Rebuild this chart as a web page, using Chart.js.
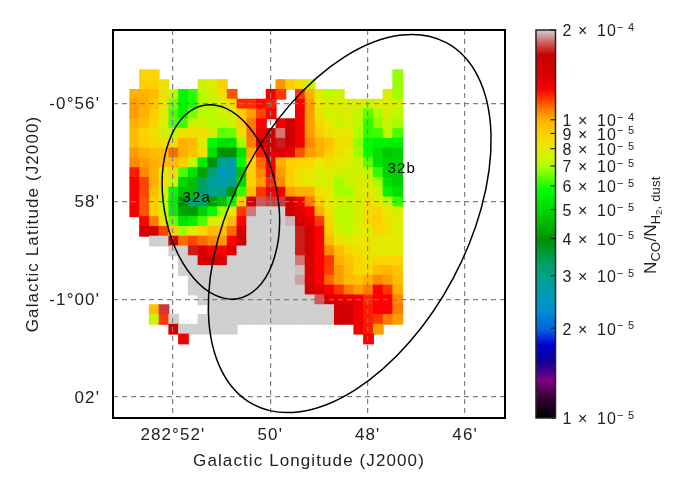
<!DOCTYPE html>
<html>
<head>
<meta charset="utf-8">
<title>CO abundance map</title>
<script src="https://cdn.jsdelivr.net/npm/chart.js@4"></script>
<style>
  html, body { margin: 0; padding: 0; background: #fff; }
  canvas { position: absolute; left: 0; top: 0; }
</style>
</head>
<body>
<canvas id="mapChart" width="681" height="496"></canvas>
<canvas id="barChart" width="681" height="496"></canvas>
<script>
// axis ticks (arcmin)
const lonTicks = [52, 50, 48, 46];
const lonLabels = ["282°52'", "50'", "48'", "46'"];
const latTicks = [-56, -58, -60, -62];
const latLabels = ["-0°56'", "58'", "-1°00'", "02'"];

// map cells, in units of 1e-5, G = above the colour range, _ = no data
const _ = null, G = 25;
const cellSize = 0.2;
const firstLon = 52.782;
const firstLat = -55.415;
const cellValues = [
  [_,8.8,8.8,_,_,_,_,_,_,_,_,_,_,_,_,_,_,_,_,_,_,_,_,_,_,_,_,6.8],
  [_,9,9,8.3,_,_,_,7.6,7.8,9,_,_,_,_,_,10.4,9,8.3,7.5,_,_,_,_,_,_,_,_,6.8],
  [10,10,9.6,8.3,7.3,5.7,6.1,7.2,7.6,8.3,11.4,_,_,_,13,11.8,_,11.8,10,7.8,7.1,7.6,_,_,_,_,7.8,6.9],
  [10.3,10,9.4,8.2,6.6,5.6,6,7,7.2,7.8,8.4,12,12,12.5,12.2,_,_,12.8,10.3,8,7.8,7.8,7.8,7.8,7.4,7.8,7.8,7.5],
  [10.3,10,9.1,8,6.3,5.6,6.6,7.1,7.2,7.5,7.7,9.1,10.3,11.6,12.6,_,_,13,10.3,8.3,7.5,7.7,7.8,7.3,6.4,7,7.7,7.2],
  [10,9.6,8.8,7.8,6.3,6.2,7.5,7.5,7.2,7.2,7.5,9.1,10.8,12.6,_,13,15,13,10.3,8.8,8,7.5,7.8,7.2,6.1,6.8,7.5,6.9],
  [9.6,8.8,8.3,7.7,7.3,8.3,8.3,8.3,7.7,6.4,6.5,8.6,11,13,15,18.5,15.5,13,10.3,9.1,8.3,8,8,7,6.1,6.2,7.3,6.3],
  [9.6,9.1,8.8,8.3,8.6,10,9.6,7.9,5.7,5.2,5.2,6.9,10.8,14,15,17,15.5,13,10.6,10,9.4,8.3,8.3,6.8,5.8,5.5,5.5,5.5],
  [10.3,10,9.6,9.6,11.1,10,9.4,8.3,5.2,3.9,3.9,5.2,10,12.2,14.5,13.8,13.5,11.4,10.3,10,9.1,8.3,8,6.9,5.8,5.2,4.7,4.9],
  [10.6,10.3,10,9.6,9.6,9.1,7.4,5.4,3.9,2.9,2.8,5.8,9.1,11.1,12.6,10,9.1,8.8,8.8,8,8.3,8,7.8,7.5,6.4,5.2,4.9,4.9],
  [12.2,10.6,10,8,8.6,6.3,5.2,4.2,3.2,2.5,2.6,4.6,9.1,10.6,12.6,10.3,9.1,8.3,8,7.8,7.8,7.5,7.5,7.5,7.2,6.1,4.9,4.9],
  [12.6,11.6,10,8.3,7.3,5,4.6,3.3,2.8,2.7,2.9,5.1,9.1,10.3,12,10.6,9.1,8.3,8,7.8,7.7,6.9,7.5,7.7,7.7,6.9,5.2,4.9],
  [12.6,11.6,9.6,7.7,5.7,4.6,4.6,3.2,2.9,3,4.1,6.1,9.6,11.8,12.8,13,10.3,10,10,8.3,8,6.9,6.9,7.7,8,7.5,5.6,5.2],
  [12.6,11.4,9.1,7.3,5.5,3.9,3.2,3.3,4.1,4.6,5.8,9.1,15,18,17.5,17.5,15.5,13,10.8,9.1,8,7.7,7.5,7.7,8.3,7.9,7.2,6.1],
  [13,11.4,9.1,7.5,5.5,4.2,4.1,4.9,5.8,6.9,8,11.8,18.5,G,G,G,15.5,13.8,12.6,10,8.3,7.2,7.2,7.7,8.5,8.8,8,7.7],
  [_,12.6,10.8,8.3,6.5,5.2,5.5,6.3,7.7,7.9,9.6,12.6,G,G,G,G,19.5,15,13.5,11.8,8.8,7.3,7.2,7.7,8.5,9.1,8.3,7.8],
  [_,14.5,14.5,11.6,9.1,6.9,7.9,8.8,9.6,9.6,11.1,15,G,G,G,G,G,17,14.5,12.6,9.1,7.7,7.3,7.8,8,8.8,8.3,7.8],
  [_,_,G,G,15,11.1,11.6,11.1,10.6,10.3,12.6,16.5,G,G,G,G,G,17,14.5,12.6,9.6,8.2,7.9,8,8.2,8,8,7.9],
  [_,_,_,_,G,G,17,14,12.8,12.6,14,G,G,G,G,G,G,17,14.5,12.6,10.6,9.6,8.8,8.3,8.2,8,7.9,7.9],
  [_,_,_,_,_,G,G,15,15,14,G,G,G,G,G,G,G,18.5,14.5,12.6,11.8,10,9.4,8.8,8.3,8.8,8.8,8.8],
  [_,_,_,_,_,G,G,G,G,G,G,G,G,G,G,G,G,19.7,14.5,12.6,11.6,10.3,9.6,8.7,8.7,9.6,9.8,9.4],
  [_,_,_,_,_,_,G,G,G,G,G,G,G,G,G,G,G,19.2,14.5,12.6,11.1,10.3,9.6,9.4,10,10.6,10.3,9.6],
  [_,_,_,_,_,_,G,G,G,G,G,G,G,G,G,G,G,G,15,13.8,12.6,11.8,10.8,10.3,10.8,12.8,11.8,10],
  [_,_,_,_,_,_,_,G,G,G,G,G,G,G,G,G,G,G,G,18,14.5,13.8,13.5,13,12,12.6,12.6,10.6],
  [_,_,9.6,17.5,_,_,_,_,G,G,G,G,G,G,G,G,G,G,G,G,G,15.5,15,13,12.2,12.6,12.6,10.8],
  [_,_,7.5,11.8,G,_,_,G,G,G,G,G,G,G,G,G,G,G,G,G,G,15.5,15,13,12.2,11.8,10.8,10.3],
  [_,_,_,_,15,G,G,G,G,G,G,_,_,_,_,_,_,_,_,_,_,_,_,13,12.2,10.3,_,_],
  [_,_,_,_,_,13,_,_,_,_,_,_,_,_,_,_,_,_,_,_,_,_,_,_,12.6,_,_,_]
];

// regions drawn over the map (arcmin, position angle in degrees)
const regionNames = ['32a', '32b'];
const regionLon = [51.015, 48.369];
const regionLat = [-58.014, -58.454];
const regionMajor = [2.006, 4.19];
const regionMinor = [1.166, 2.393];
const regionAngle = [9.8, -28.1];
const regionLabelLon = [51.51, 47.3];
const regionLabelLat = [-57.93, -57.34];

// colour bar
const cbarTicks = [20, 10, 9, 8, 7, 6, 5, 4, 3, 2, 1];
const cbarLabels = ['2', '1', '9', '8', '7', '6', '5', '4', '3', '2', '1'];
const cbarExps = ['4', '4', '5', '5', '5', '5', '5', '5', '5', '5', '5'];
const stopValues = [1, 1.15, 1.34, 1.54, 1.76, 1.97, 2.3, 2.8, 3.34, 3.95, 4.6, 5.82, 7, 8.05, 9, 10, 11, 12.6, 14.2, 16.5, 17.9, 20];
const stopColors = ['#000000', '#300030', '#800080', '#10009a', '#0000d0', '#0060e0', '#0090d0', '#00a0a0', '#00a060', '#009000',
  '#00c000', '#00ff00', '#b0ff00', '#e8e800', '#ffd000', '#ffb000', '#ff7000', '#ff0000', '#d80000', '#c80000', '#d05050', '#d0d0d0'];

const FONT = '"Liberation Sans", Arial, sans-serif';
const INK = '#222';

function rgb(hex) {
  return [1, 3, 5].map(i => parseInt(hex.substr(i, 2), 16));
}

function colorFor(v) {
  if (v >= 20) return stopColors[stopColors.length - 1];
  let i = 0;
  while (i < stopValues.length - 2 && v > stopValues[i + 1]) i++;
  const t = Math.log(v / stopValues[i]) / Math.log(stopValues[i + 1] / stopValues[i]);
  const a = rgb(stopColors[i]), b = rgb(stopColors[i + 1]);
  return 'rgb(' + a.map((c, k) => Math.round(c + (b[k] - c) * t)).join(',') + ')';
}

const cells = [];
cellValues.forEach((row, i) => row.forEach((v, j) => {
  if (v !== null) cells.push({ x: firstLon - j * cellSize, y: firstLat - i * cellSize, v: v });
}));

// the reference text is set a little wide
const spacingPlugin = {
  id: 'spacing',
  beforeLayout(chart) { chart.ctx.letterSpacing = '1.1px'; }
};

const regionPlugin = {
  id: 'regions',
  afterDraw(chart) {
    const { ctx, chartArea: a, scales: { x, y } } = chart;
    const perMin = Math.abs(y.getPixelForValue(0) - y.getPixelForValue(1));
    ctx.save();
    ctx.strokeStyle = '#000';
    ctx.lineWidth = 1.5;
    regionNames.forEach((name, i) => {
      ctx.beginPath();
      ctx.ellipse(x.getPixelForValue(regionLon[i]), y.getPixelForValue(regionLat[i]),
        regionMinor[i] * perMin, regionMajor[i] * perMin, regionAngle[i] * Math.PI / -180, 0, 2 * Math.PI);
      ctx.stroke();
    });
    ctx.fillStyle = '#000';
    ctx.font = '15px ' + FONT;
    ctx.textAlign = 'center';
    ctx.textBaseline = 'middle';
    regionNames.forEach((name, i) => {
      ctx.fillText(name, x.getPixelForValue(regionLabelLon[i]), y.getPixelForValue(regionLabelLat[i]));
    });
    ctx.lineWidth = 2;
    ctx.strokeRect(a.left, a.top, a.right - a.left, a.bottom - a.top);
    ctx.restore();
  }
};

const gridStyle = { color: '#808080', lineWidth: 1.2, drawTicks: false, z: 1 };
const noBorder = { display: false, dash: [5, 4] };

new Chart(document.getElementById('mapChart'), {
  type: 'scatter',
  data: {
    datasets: [{
      data: cells,
      pointStyle: 'rect',
      borderWidth: 0,
      pointBorderWidth: 0,
      pointBackgroundColor: c => c.raw ? colorFor(c.raw.v) : 'transparent',
      pointRadius: c => {
        const s = c.chart.scales.y;
        return (Math.abs(s.getPixelForValue(0) - s.getPixelForValue(cellSize)) + 1) / 2 * Math.SQRT2;
      }
    }]
  },
  options: {
    responsive: false,
    animation: false,
    events: [],
    layout: { padding: { top: 30, right: 176, bottom: 0, left: 0 } },
    plugins: { legend: { display: false }, tooltip: { enabled: false } },
    scales: {
      x: {
        type: 'linear', reverse: true, min: 45.18, max: 53.23,
        afterBuildTicks: s => { s.ticks = lonTicks.map(v => ({ value: v })); },
        afterFit: s => { s.height = 78; },
        grid: gridStyle,
        border: noBorder,
        ticks: {
          autoSkip: false, maxRotation: 0, padding: 7, color: INK, font: { family: FONT, size: 17 },
          callback: v => lonLabels[lonTicks.indexOf(v)]
        },
        title: { display: true, text: 'Galactic Longitude (J2000)', color: INK, font: { family: FONT, size: 17 }, padding: { top: 0, bottom: 24 } }
      },
      y: {
        type: 'linear', min: -62.43, max: -54.5,
        afterBuildTicks: s => { s.ticks = latTicks.map(v => ({ value: v })); },
        afterFit: s => { s.width = 113; },
        grid: gridStyle,
        border: noBorder,
        ticks: {
          autoSkip: false, padding: 13, labelOffset: 1, color: INK, font: { family: FONT, size: 17 },
          callback: v => latLabels[latTicks.indexOf(v)]
        },
        title: { display: true, text: 'Galactic Latitude (J2000)', color: INK, font: { family: FONT, size: 17 }, padding: { top: 23, bottom: 0 } }
      }
    }
  },
  plugins: [spacingPlugin, regionPlugin]
});

const cbarPlugin = {
  id: 'cbar',
  afterDraw(chart) {
    const { ctx, chartArea: a, scales: { y } } = chart;
    ctx.save();
    ctx.strokeStyle = '#222';
    ctx.lineWidth = 1.2;
    cbarTicks.forEach((v, i) => {
      const py = y.getPixelForValue(v);
      ctx.beginPath();
      ctx.moveTo(a.right - 5, py);
      ctx.lineTo(a.right, py);
      ctx.stroke();
      // exponent next to the tick label
      ctx.font = '16px ' + FONT;
      const w = ctx.measureText(cbarLabels[i] + ' ×\u2009\u200910').width;
      ctx.font = '11px ' + FONT;
      ctx.fillStyle = INK;
      ctx.textBaseline = 'middle';
      ctx.textAlign = 'left';
      ctx.fillText('−\u2009' + cbarExps[i], a.right + 7 + w, py - 2);
    });
    ctx.lineWidth = 1.5;
    ctx.strokeRect(a.left, a.top, a.right - a.left, a.bottom - a.top);

    // colour bar title with subscripts, read bottom to top
    ctx.translate(651, 274);
    ctx.rotate(-Math.PI / 2);
    ctx.letterSpacing = '0.2px';
    ctx.textBaseline = 'alphabetic';
    ctx.textAlign = 'left';
    let px = 0;
    [['N', 17, 0], ['CO', 13, 4], ['/', 17, 0], ['N', 17, 0], ['H', 13, 4], ['2', 9, 6], [', dust', 13, 4]].forEach(p => {
      ctx.font = p[1] + 'px ' + FONT;
      ctx.fillText(p[0], px, 5 + p[2]);
      px += ctx.measureText(p[0]).width;
    });
    ctx.restore();
  }
};

new Chart(document.getElementById('barChart'), {
  type: 'bar',
  data: {
    labels: ['colour'],
    datasets: [{
      data: [[1, 20]],
      barPercentage: 1,
      categoryPercentage: 1,
      backgroundColor: c => {
        const a = c.chart.chartArea;
        if (!a) return '#ccc';
        const g = c.chart.ctx.createLinearGradient(0, a.bottom, 0, a.top);
        stopValues.forEach((v, i) => g.addColorStop(Math.log(v) / Math.log(20), stopColors[i]));
        return g;
      }
    }]
  },
  options: {
    responsive: false,
    animation: false,
    events: [],
    layout: { padding: { top: 30, right: 0, bottom: 78, left: 536 } },
    plugins: { legend: { display: false }, tooltip: { enabled: false } },
    scales: {
      x: { display: false },
      y: {
        type: 'logarithmic', position: 'right', min: 1, max: 20,
        afterBuildTicks: s => { s.ticks = cbarTicks.map(v => ({ value: v })); },
        afterFit: s => { s.width = 125.5; },
        grid: { display: false, drawTicks: false },
        border: { display: false },
        ticks: {
          autoSkip: false, padding: 7, labelOffset: 2, color: INK, font: { family: FONT, size: 16 },
          callback: v => cbarLabels[cbarTicks.indexOf(v)] + ' ×\u2009\u200910'
        }
      }
    }
  },
  plugins: [spacingPlugin, cbarPlugin]
});
</script>
</body>
</html>
